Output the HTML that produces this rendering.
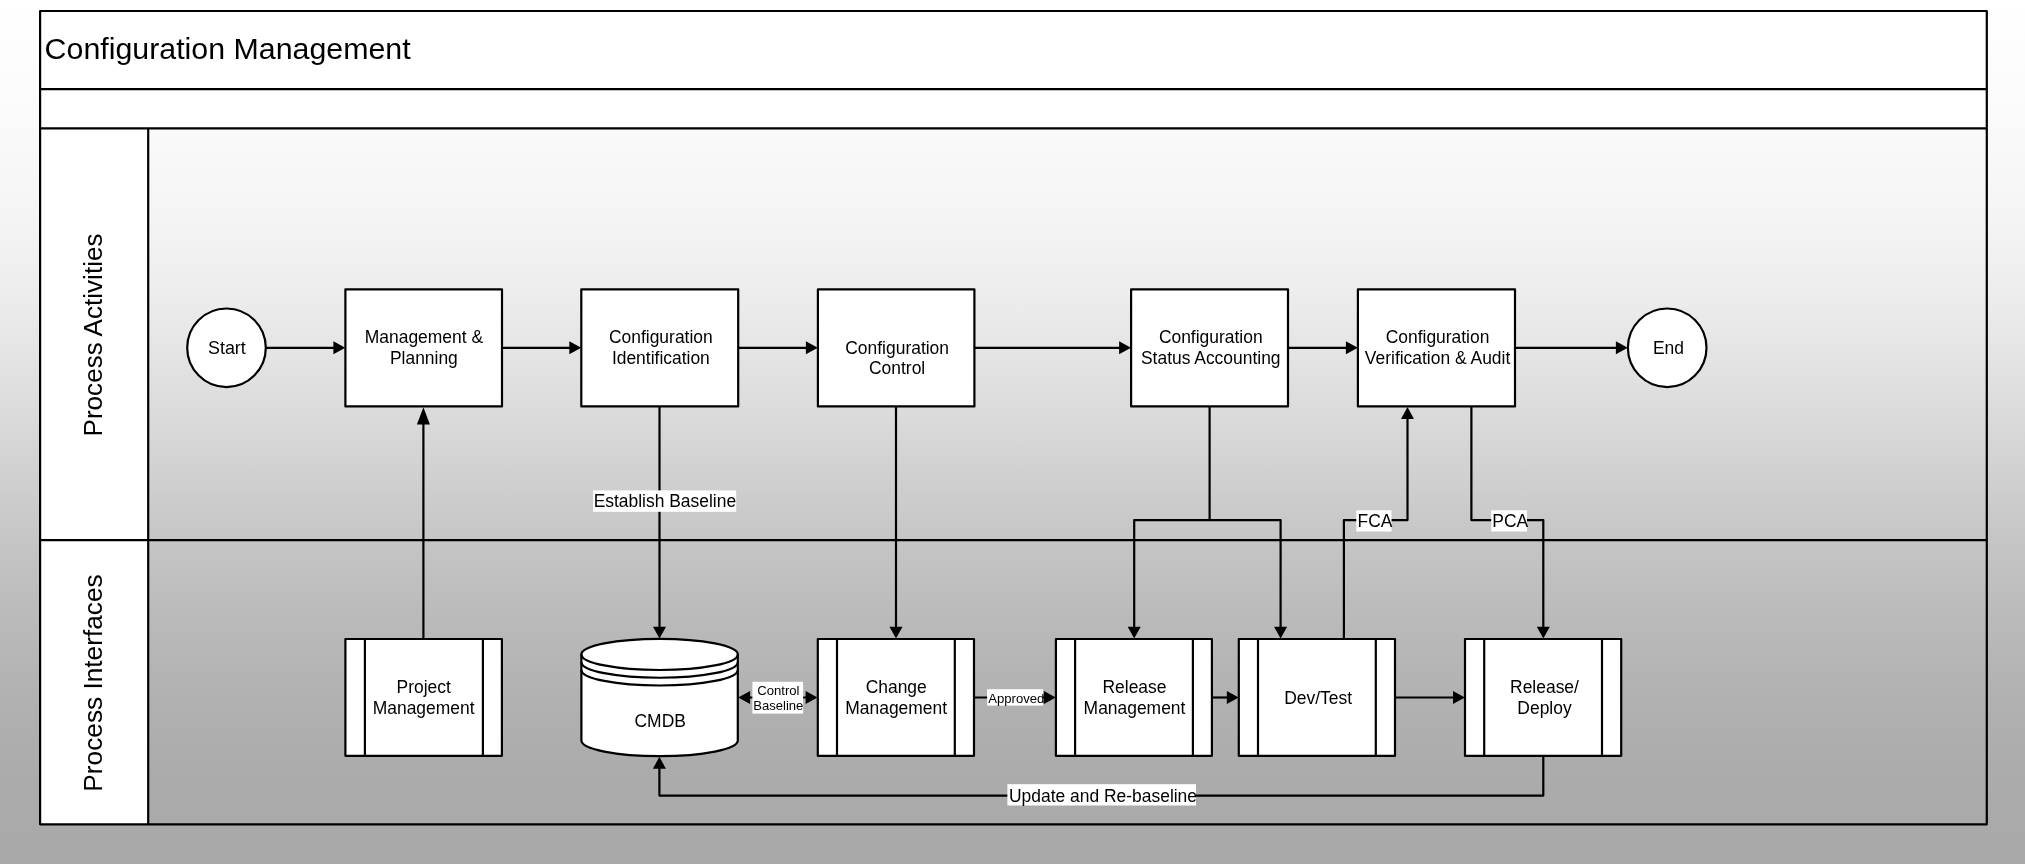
<!DOCTYPE html>
<html lang="en">
<head>
<meta charset="utf-8">
<title>Configuration Management</title>
<style>
html,body{margin:0;padding:0;background:#a9a9a9;}
body{width:2025px;height:864px;overflow:hidden;}
svg{display:block;will-change:transform;}
text{font-family:"Liberation Sans",Arial,Helvetica,sans-serif;fill:#000;}
.t{font-size:17.45px;text-anchor:middle;}
.s{font-size:13.1px;text-anchor:middle;}
.ln{stroke:#000;stroke-width:2.2;fill:none;stroke-linejoin:round;}
.bx{stroke:#000;stroke-width:2.2;fill:#fff;stroke-linejoin:round;}
.in{stroke:#000;stroke-width:2.2;fill:none;}
.ar{fill:#000;stroke:none;}
.lb{fill:#fff;stroke:none;}
</style>
</head>
<body>
<svg width="2025" height="864" viewBox="0 0 2025 864">
<defs>
<linearGradient id="bg" x1="0" y1="0" x2="0" y2="864" gradientUnits="userSpaceOnUse">
<stop offset="0.0000" stop-color="#ffffff"/>
<stop offset="0.1481" stop-color="#fafafa"/>
<stop offset="0.2546" stop-color="#f4f4f4"/>
<stop offset="0.3472" stop-color="#ececec"/>
<stop offset="0.4398" stop-color="#e0e0e0"/>
<stop offset="0.5324" stop-color="#d3d3d3"/>
<stop offset="0.6343" stop-color="#c4c4c4"/>
<stop offset="0.7176" stop-color="#bababa"/>
<stop offset="0.8102" stop-color="#b1b1b1"/>
<stop offset="0.9028" stop-color="#ababab"/>
<stop offset="1.0000" stop-color="#a9a9a9"/>
</linearGradient>
</defs>
<rect x="0" y="0" width="2025" height="864" fill="url(#bg)"/>

<g id="frame">
<rect x="40.1" y="11.0" width="1946.7" height="117.4" fill="#fff"/>
<rect x="40.1" y="128.4" width="108.1" height="695.9" fill="#fff"/>
<rect class="ln" x="40.1" y="11.0" width="1946.7" height="813.3"/>
<polyline class="ln" points="40.10,89.10 1986.80,89.10"/>
<polyline class="ln" points="40.10,128.40 1986.80,128.40"/>
<polyline class="ln" points="40.10,540.20 1986.80,540.20"/>
<polyline class="ln" points="148.20,128.40 148.20,824.30"/>
<text x="44.6" y="58.9" font-size="30.35">Configuration Management</text>
<text transform="translate(102,335.0) rotate(-90)" font-size="26.1" text-anchor="middle">Process Activities</text>
<text transform="translate(102,683.0) rotate(-90)" font-size="26.25" text-anchor="middle">Process Interfaces</text>
</g>
<g id="conn">
<polyline class="ln" points="265.80,347.85 334.50,347.85"/>
<polyline class="ln" points="502.00,347.85 570.40,347.85"/>
<polyline class="ln" points="738.20,347.85 807.00,347.85"/>
<polyline class="ln" points="974.40,347.85 1120.20,347.85"/>
<polyline class="ln" points="1288.00,347.85 1347.00,347.85"/>
<polyline class="ln" points="1515.00,347.85 1617.00,347.85"/>
<polyline class="ln" points="423.40,639.00 423.40,421.40"/>
<polyline class="ln" points="659.50,406.40 659.50,628.10"/>
<polyline class="ln" points="896.00,406.40 896.00,628.10"/>
<polyline class="ln" points="1209.60,406.40 1209.60,520.10"/>
<polyline class="ln" points="1134.20,628.10 1134.20,520.10 1280.60,520.10 1280.60,628.10"/>
<polyline class="ln" points="1343.90,639.00 1343.90,520.10 1407.50,520.10 1407.50,417.30"/>
<polyline class="ln" points="1471.40,406.40 1471.40,520.10 1543.30,520.10 1543.30,628.10"/>
<polyline class="ln" points="748.70,697.50 806.90,697.50"/>
<polyline class="ln" points="974.00,697.50 1045.00,697.50"/>
<polyline class="ln" points="1211.90,697.50 1227.90,697.50"/>
<polyline class="ln" points="1395.00,697.50 1454.10,697.50"/>
<polyline class="ln" points="1543.30,755.80 1543.30,795.60 659.40,795.60 659.40,766.90"/>
</g>
<g id="labels">
<rect class="lb" x="593.1" y="490.4" width="143.1" height="21.4"/>
<text class="t" x="664.9" y="506.7">Establish Baseline</text>
<rect class="lb" x="1356.3" y="510.3" width="35.2" height="21.2"/>
<text class="t" x="1375.0" y="526.7">FCA</text>
<rect class="lb" x="1491.2" y="510.3" width="35.8" height="21.2"/>
<text class="t" x="1510.3" y="526.7">PCA</text>
<rect class="lb" x="752.4" y="681.8" width="50.7" height="31.8"/>
<text class="s" x="778.4" y="694.5">Control</text>
<text class="s" x="778.3" y="710.2">Baseline</text>
<rect class="lb" x="987.1" y="689.2" width="55.9" height="16.4"/>
<text class="s" x="1016.3" y="702.9">Approved</text>
<rect class="lb" x="1007.4" y="784.2" width="188.6" height="21.3"/>
<text class="t" x="1103.0" y="801.6">Update and Re-baseline</text>
</g>
<g id="heads">
<polygon class="ar" points="345.30,347.85 333.40,341.35 333.40,354.35"/>
<polygon class="ar" points="581.20,347.85 569.30,341.35 569.30,354.35"/>
<polygon class="ar" points="817.80,347.85 805.90,341.35 805.90,354.35"/>
<polygon class="ar" points="1131.00,347.85 1119.10,341.35 1119.10,354.35"/>
<polygon class="ar" points="1357.80,347.85 1345.90,341.35 1345.90,354.35"/>
<polygon class="ar" points="1627.80,347.85 1615.90,341.35 1615.90,354.35"/>
<polygon class="ar" points="423.40,407.30 416.90,424.50 429.90,424.50"/>
<polygon class="ar" points="659.50,638.60 653.00,626.70 666.00,626.70"/>
<polygon class="ar" points="896.00,638.60 889.50,626.70 902.50,626.70"/>
<polygon class="ar" points="1134.20,638.60 1127.70,626.70 1140.70,626.70"/>
<polygon class="ar" points="1280.60,638.60 1274.10,626.70 1287.10,626.70"/>
<polygon class="ar" points="1407.50,407.00 1401.00,418.90 1414.00,418.90"/>
<polygon class="ar" points="1543.30,638.60 1536.80,626.70 1549.80,626.70"/>
<polygon class="ar" points="738.20,697.50 750.10,691.00 750.10,704.00"/>
<polygon class="ar" points="817.50,697.50 805.60,691.00 805.60,704.00"/>
<polygon class="ar" points="1055.80,697.50 1043.90,691.00 1043.90,704.00"/>
<polygon class="ar" points="1238.70,697.50 1226.80,691.00 1226.80,704.00"/>
<polygon class="ar" points="1464.90,697.50 1453.00,691.00 1453.00,704.00"/>
<polygon class="ar" points="659.40,756.80 652.90,768.70 665.90,768.70"/>
</g>
<g id="row1">
<circle class="bx" cx="226.5" cy="347.8" r="39.3"/>
<text class="t" style="font-size:17.9px" x="226.90" y="353.80">Start</text>
<rect class="bx" x="345.4" y="289.3" width="156.6" height="117.1"/>
<text class="t" x="423.90" y="343.35">Management &amp;</text>
<text class="t" x="423.90" y="364.10">Planning</text>
<rect class="bx" x="581.3" y="289.3" width="156.9" height="117.1"/>
<text class="t" x="660.85" y="343.35">Configuration</text>
<text class="t" x="660.85" y="364.10">Identification</text>
<rect class="bx" x="817.9" y="289.3" width="156.5" height="117.1"/>
<text class="t" x="897.15" y="353.65">Configuration</text>
<text class="t" x="897.15" y="374.40">Control</text>
<rect class="bx" x="1131.1" y="289.3" width="156.9" height="117.1"/>
<text class="t" x="1210.75" y="343.35">Configuration</text>
<text class="t" x="1210.75" y="364.10">Status Accounting</text>
<rect class="bx" x="1357.9" y="289.3" width="157.1" height="117.1"/>
<text class="t" x="1437.55" y="343.35">Configuration</text>
<text class="t" x="1437.55" y="364.10">Verification &amp; Audit</text>
<circle class="bx" cx="1667.2" cy="347.8" r="39.3"/>
<text class="t" x="1668.50" y="353.70">End</text>
</g>
<g id="row2">
<rect class="bx" x="345.4" y="639.0" width="156.5" height="116.8"/>
<polyline class="ln" points="364.90,639.00 364.90,755.80"/>
<polyline class="ln" points="482.90,639.00 482.90,755.80"/>
<text class="t" x="423.65" y="693.20">Project</text>
<text class="t" x="423.65" y="713.95">Management</text>
<path class="bx" d="M581.4,654.4 A78.2,15.6 0 0 1 737.8,654.4 L737.8,740.6 A78.2,15.6 0 0 1 581.4,740.6 Z"/>
<path class="in" d="M581.4,654.40 A78.2,15.6 0 0 0 737.8,654.40"/>
<path class="in" d="M581.4,662.15 A78.2,15.6 0 0 0 737.8,662.15"/>
<path class="in" d="M581.4,669.90 A78.2,15.6 0 0 0 737.8,669.90"/>
<text class="t" x="660.2" y="727.4">CMDB</text>
<rect class="bx" x="817.8" y="639.0" width="156.2" height="116.8"/>
<polyline class="ln" points="837.00,639.00 837.00,755.80"/>
<polyline class="ln" points="954.80,639.00 954.80,755.80"/>
<text class="t" x="896.20" y="693.20">Change</text>
<text class="t" x="896.20" y="713.95">Management</text>
<rect class="bx" x="1055.9" y="639.0" width="156.0" height="116.8"/>
<polyline class="ln" points="1075.10,639.00 1075.10,755.80"/>
<polyline class="ln" points="1192.90,639.00 1192.90,755.80"/>
<text class="t" x="1134.50" y="693.20">Release</text>
<text class="t" x="1134.50" y="713.95">Management</text>
<rect class="bx" x="1238.8" y="639.0" width="156.2" height="116.8"/>
<polyline class="ln" points="1258.00,639.00 1258.00,755.80"/>
<polyline class="ln" points="1375.80,639.00 1375.80,755.80"/>
<text class="t" x="1318.10" y="703.60">Dev/Test</text>
<rect class="bx" x="1465.0" y="639.0" width="156.2" height="116.8"/>
<polyline class="ln" points="1484.20,639.00 1484.20,755.80"/>
<polyline class="ln" points="1602.00,639.00 1602.00,755.80"/>
<text class="t" x="1544.50" y="693.20">Release/</text>
<text class="t" x="1544.50" y="713.95">Deploy</text>
</g>
</svg>
</body>
</html>
